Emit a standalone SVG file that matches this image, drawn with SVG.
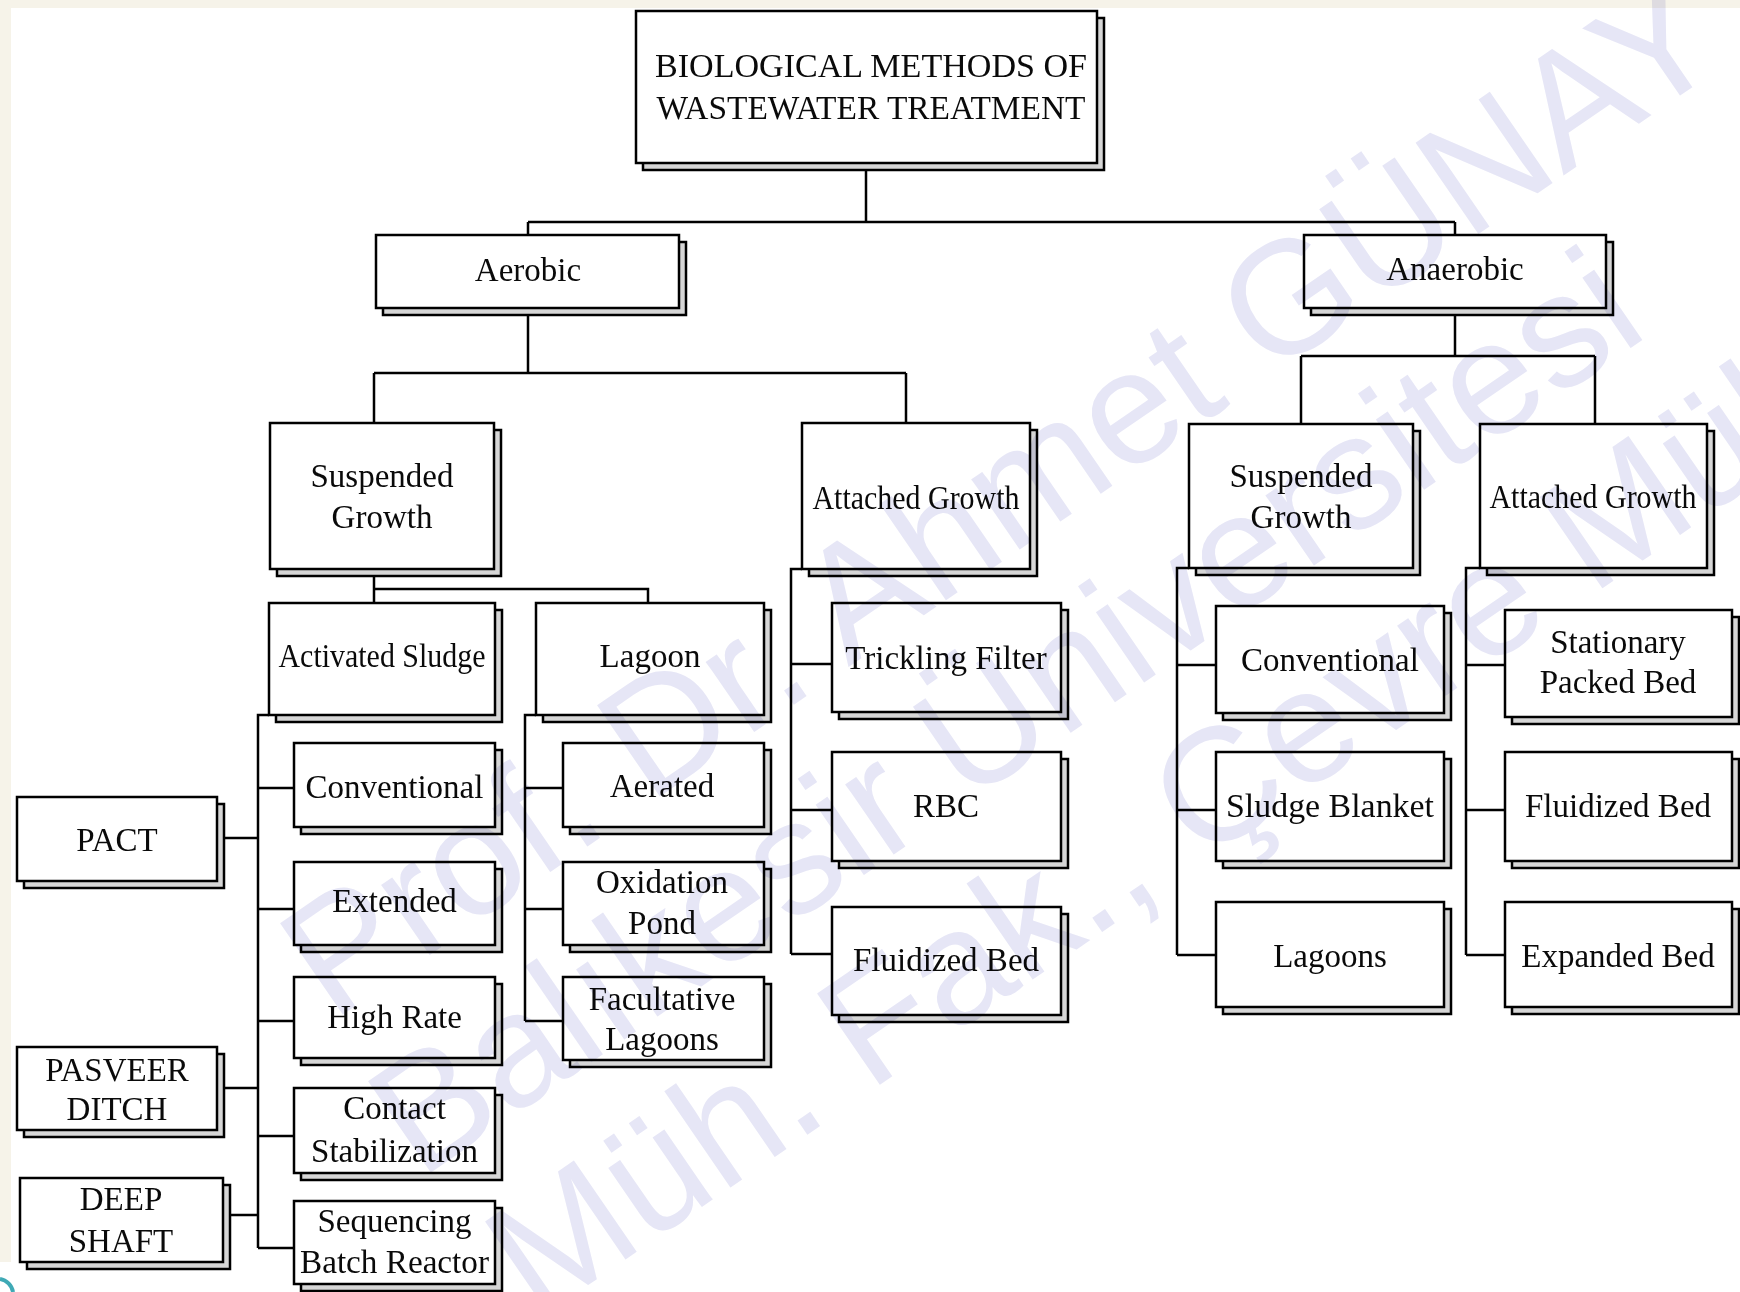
<svg xmlns="http://www.w3.org/2000/svg" width="1740" height="1292" viewBox="0 0 1740 1292">
<style>
.node rect.s{fill:#d6d6d6;stroke:#000;stroke-width:2.5}
.node rect.m{fill:#fff;stroke:#000;stroke-width:2.5}
.node text{font-family:"Liberation Serif","Times New Roman",serif;font-size:33px;text-anchor:middle;fill:#0a0a0a}
#connectors path{stroke:#000;stroke-width:2.5;fill:none}
.wm{font-family:"Liberation Sans",Arial,sans-serif;font-size:161px;fill:#e6e6f6}
</style>
<rect x="0" y="0" width="1740" height="1292" fill="#fff"/>
<rect x="0" y="0" width="1740" height="8" fill="#f6f3e9"/>
<rect x="0" y="0" width="11" height="1262" fill="#f6f3e9"/>
<path d="M0 1279 A16 16 0 0 1 13 1292" stroke="#3fa9b5" stroke-width="4" fill="none"/>

<g id="connectors">
<path d="M866 163V222M528 222H1455M528 222V235M1455 222V235"/>
<path d="M528 308V373M374 373H906M374 373V423M906 373V423"/>
<path d="M1455 308V356M1301 356H1595M1301 356V424M1595 356V424"/>
<path d="M374 569V603M374 589H648V603"/>
<path d="M269 715H258V1248M258 788H294M258 909H294M258 1021H294M258 1136H294M258 1248H294M220 838H258M220 1088H258M226 1215H258"/>
<path d="M536 715H525V1021M525 788H563M525 909H563M525 1021H563"/>
<path d="M802 569H791V954M791 664H832M791 810H832M791 954H832"/>
<path d="M1189 568H1177V955M1177 665H1216M1177 810H1216M1177 955H1216"/>
<path d="M1480 568H1466V955M1466 665H1505M1466 810H1505M1466 955H1505"/>
</g>

<g id="n-title" class="node"><rect class="s" x="643" y="18" width="461" height="152"/><rect class="m" x="636" y="11" width="461" height="152"/>
<text x="871" y="77" font-size="34" textLength="432" lengthAdjust="spacingAndGlyphs">BIOLOGICAL METHODS OF</text>
<text x="871" y="119" font-size="34" textLength="429" lengthAdjust="spacingAndGlyphs">WASTEWATER TREATMENT</text></g>

<g id="n-aerobic" class="node"><rect class="s" x="383" y="242" width="303" height="73"/><rect class="m" x="376" y="235" width="303" height="73"/><text x="528" y="281">Aerobic</text></g>
<g id="n-anaerobic" class="node"><rect class="s" x="1311" y="242" width="302" height="73"/><rect class="m" x="1304" y="235" width="302" height="73"/><text x="1455" y="280">Anaerobic</text></g>

<g id="n-sg-aer" class="node"><rect class="s" x="277" y="430" width="224" height="146"/><rect class="m" x="270" y="423" width="224" height="146"/><text x="382" y="487">Suspended</text><text x="382" y="528">Growth</text></g>
<g id="n-ag-aer" class="node"><rect class="s" x="809" y="430" width="228" height="146"/><rect class="m" x="802" y="423" width="228" height="146"/><text x="916" y="509" textLength="207" lengthAdjust="spacingAndGlyphs">Attached Growth</text></g>
<g id="n-sg-ana" class="node"><rect class="s" x="1196" y="431" width="224" height="144"/><rect class="m" x="1189" y="424" width="224" height="144"/><text x="1301" y="487">Suspended</text><text x="1301" y="528">Growth</text></g>
<g id="n-ag-ana" class="node"><rect class="s" x="1487" y="431" width="227" height="144"/><rect class="m" x="1480" y="424" width="227" height="144"/><text x="1593" y="508" textLength="207" lengthAdjust="spacingAndGlyphs">Attached Growth</text></g>

<g id="n-activated" class="node"><rect class="s" x="276" y="610" width="226" height="112"/><rect class="m" x="269" y="603" width="226" height="112"/><text x="382" y="667" textLength="207" lengthAdjust="spacingAndGlyphs">Activated Sludge</text></g>
<g id="n-lagoon" class="node"><rect class="s" x="543" y="610" width="228" height="112"/><rect class="m" x="536" y="603" width="228" height="112"/><text x="650" y="667">Lagoon</text></g>

<g id="n-conv-aer" class="node"><rect class="s" x="301" y="750" width="201" height="84"/><rect class="m" x="294" y="743" width="201" height="84"/><text x="394.5" y="798">Conventional</text></g>
<g id="n-extended" class="node"><rect class="s" x="301" y="869" width="201" height="83"/><rect class="m" x="294" y="862" width="201" height="83"/><text x="394.5" y="912">Extended</text></g>
<g id="n-highrate" class="node"><rect class="s" x="301" y="984" width="201" height="81"/><rect class="m" x="294" y="977" width="201" height="81"/><text x="394.5" y="1028">High Rate</text></g>
<g id="n-contact" class="node"><rect class="s" x="301" y="1095" width="201" height="85"/><rect class="m" x="294" y="1088" width="201" height="85"/><text x="394.5" y="1119">Contact</text><text x="394.5" y="1162">Stabilization</text></g>
<g id="n-sbr" class="node"><rect class="s" x="301" y="1208" width="201" height="83"/><rect class="m" x="294" y="1201" width="201" height="83"/><text x="394.5" y="1232">Sequencing</text><text x="394.5" y="1273" textLength="189" lengthAdjust="spacingAndGlyphs">Batch Reactor</text></g>

<g id="n-pact" class="node"><rect class="s" x="24" y="804" width="200" height="84"/><rect class="m" x="17" y="797" width="200" height="84"/><text x="117" y="851">PACT</text></g>
<g id="n-pasveer" class="node"><rect class="s" x="24" y="1054" width="200" height="83"/><rect class="m" x="17" y="1047" width="200" height="83"/><text x="117" y="1081">PASVEER</text><text x="117" y="1120">DITCH</text></g>
<g id="n-deepshaft" class="node"><rect class="s" x="27" y="1185" width="203" height="84"/><rect class="m" x="20" y="1178" width="203" height="84"/><text x="121" y="1210">DEEP</text><text x="121" y="1252">SHAFT</text></g>

<g id="n-aerated" class="node"><rect class="s" x="570" y="750" width="201" height="84"/><rect class="m" x="563" y="743" width="201" height="84"/><text x="662" y="797">Aerated</text></g>
<g id="n-oxidation" class="node"><rect class="s" x="570" y="869" width="201" height="83"/><rect class="m" x="563" y="862" width="201" height="83"/><text x="662" y="893">Oxidation</text><text x="662" y="934">Pond</text></g>
<g id="n-facultative" class="node"><rect class="s" x="570" y="984" width="201" height="83"/><rect class="m" x="563" y="977" width="201" height="83"/><text x="662" y="1010">Facultative</text><text x="662" y="1050">Lagoons</text></g>

<g id="n-trickling" class="node"><rect class="s" x="839" y="610" width="229" height="109"/><rect class="m" x="832" y="603" width="229" height="109"/><text x="946" y="669">Trickling Filter</text></g>
<g id="n-rbc" class="node"><rect class="s" x="839" y="759" width="229" height="109"/><rect class="m" x="832" y="752" width="229" height="109"/><text x="946" y="817">RBC</text></g>
<g id="n-fluid-aer" class="node"><rect class="s" x="839" y="914" width="229" height="108"/><rect class="m" x="832" y="907" width="229" height="108"/><text x="946" y="971">Fluidized Bed</text></g>

<g id="n-conv-ana" class="node"><rect class="s" x="1223" y="613" width="228" height="107"/><rect class="m" x="1216" y="606" width="228" height="107"/><text x="1330" y="671">Conventional</text></g>
<g id="n-sludgeblanket" class="node"><rect class="s" x="1223" y="759" width="228" height="109"/><rect class="m" x="1216" y="752" width="228" height="109"/><text x="1330" y="817" textLength="208" lengthAdjust="spacingAndGlyphs">Sludge Blanket</text></g>
<g id="n-lagoons" class="node"><rect class="s" x="1223" y="909" width="228" height="105"/><rect class="m" x="1216" y="902" width="228" height="105"/><text x="1330" y="967">Lagoons</text></g>

<g id="n-stationary" class="node"><rect class="s" x="1512" y="617" width="227" height="107"/><rect class="m" x="1505" y="610" width="227" height="107"/><text x="1618" y="653">Stationary</text><text x="1618" y="693">Packed Bed</text></g>
<g id="n-fluid-ana" class="node"><rect class="s" x="1512" y="759" width="227" height="109"/><rect class="m" x="1505" y="752" width="227" height="109"/><text x="1618" y="817">Fluidized Bed</text></g>
<g id="n-expanded" class="node"><rect class="s" x="1512" y="909" width="227" height="105"/><rect class="m" x="1505" y="902" width="227" height="105"/><text x="1618" y="967">Expanded Bed</text></g>

<g id="watermark" transform="translate(332,1022) rotate(-34.5)" style="mix-blend-mode:multiply">
<text class="wm" x="0" y="0">Prof. Dr. Ahmet GÜNAY</text>
<text class="wm" x="-17" y="180">Balıkesir Üniversitesi</text>
<text class="wm" x="0" y="362">Müh. Fak., Çevre Müh.</text>
</g>
</svg>
